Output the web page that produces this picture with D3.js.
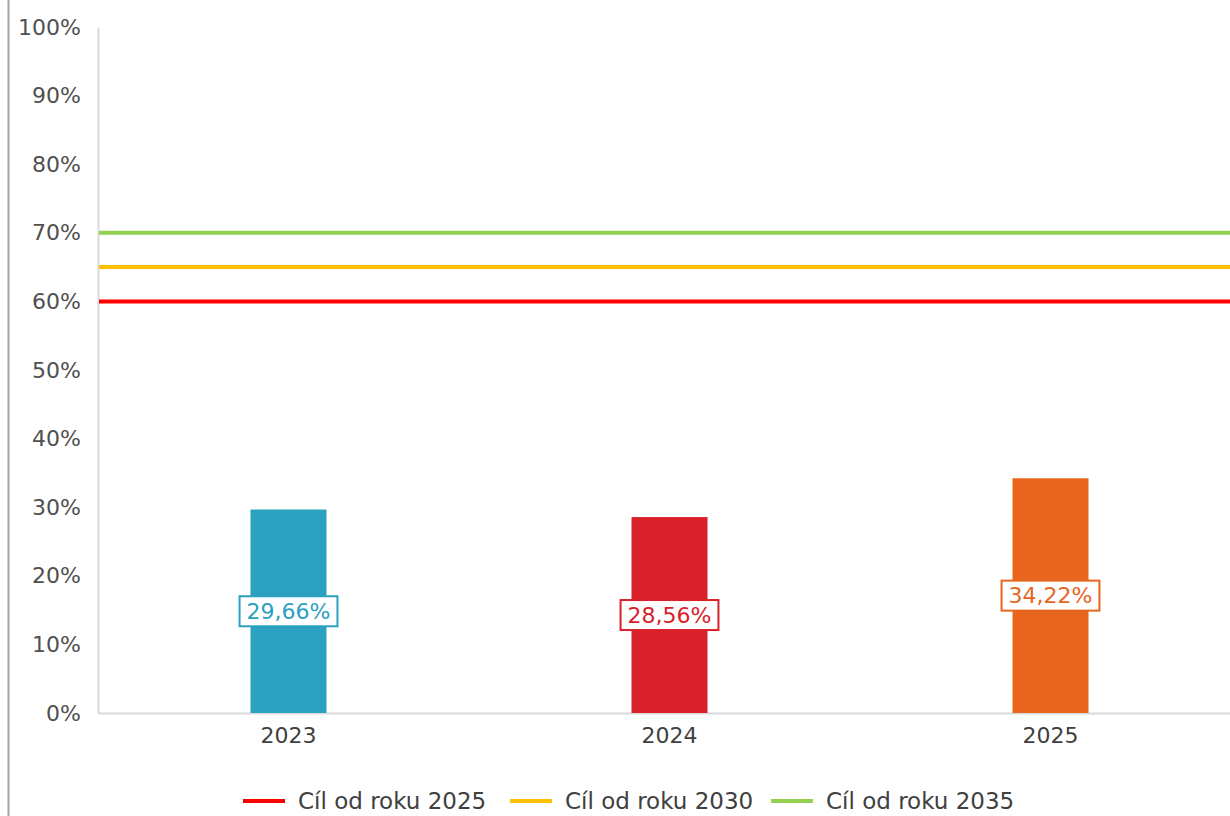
<!DOCTYPE html>
<html><head><meta charset="utf-8">
<script src="https://cdn.jsdelivr.net/npm/d3@7"></script>
<style>body{margin:0;background:#fff;}svg{display:block;font-family:"DejaVu Sans",Verdana,sans-serif;}</style>
</head><body>
<svg id="chart" width="1230" height="816"></svg>
<script>
const categories = ["2023", "2024", "2025"];
const values = [29.66, 28.56, 34.22];
const barColors = ["#2aa1be", "#d9202a", "#e8651e"];
const valueLabels = ["29,66%", "28,56%", "34,22%"];
const targetNames = ["Cíl od roku 2025", "Cíl od roku 2030", "Cíl od roku 2035"];
const targetValues = [60, 65, 70];
const targetColors = ["#ff0000", "#ffc000", "#92d050"];
const yTicks = [0, 10, 20, 30, 40, 50, 60, 70, 80, 90, 100];

const svg = d3.select("#chart");
const m = {left: 98, top: 27, right: -11, bottom: 103};
const W = 1230, H = 816;
const x = d3.scaleBand().domain(categories).range([m.left, W - m.right]).paddingInner(0).paddingOuter(0);
const y = d3.scaleLinear().domain([0, 100]).range([H - m.bottom, m.top]);

// outer left border
svg.append("line").attr("x1", 8.5).attr("x2", 8.5).attr("y1", 0).attr("y2", H)
  .attr("stroke", "#a6a6a6").attr("stroke-width", 2);

// axes
const yAxis = svg.append("g").attr("transform", `translate(${m.left},0)`)
  .call(d3.axisLeft(y).tickValues(yTicks).tickFormat(d => d + "%").tickSize(0).tickPadding(17));
yAxis.select(".domain").attr("stroke", "#d9d9d9").attr("stroke-width", 2);
yAxis.selectAll("text").attr("font-size", 22).attr("fill", "#505050")
  .attr("font-family", "'DejaVu Sans', Verdana, sans-serif");

const xAxis = svg.append("g").attr("transform", `translate(0,${y(0)})`)
  .call(d3.axisBottom(x).tickSize(0).tickPadding(14));
xAxis.select(".domain").attr("stroke", "#d9d9d9").attr("stroke-width", 2);
xAxis.selectAll("text").attr("font-size", 22).attr("fill", "#404040")
  .attr("font-family", "'DejaVu Sans', Verdana, sans-serif");

// bars
const bw = 76;
svg.append("g").selectAll("rect").data(categories).join("rect")
  .attr("x", d => x(d) + x.bandwidth() / 2 - bw / 2)
  .attr("width", bw)
  .attr("y", (d, i) => y(values[i]))
  .attr("height", (d, i) => y(0) - y(values[i]))
  .attr("fill", (d, i) => barColors[i]);

// target lines
svg.append("g").selectAll("line").data(targetValues).join("line")
  .attr("x1", m.left + 1).attr("x2", W)
  .attr("y1", d => y(d)).attr("y2", d => y(d))
  .attr("stroke", (d, i) => targetColors[i]).attr("stroke-width", 4);

// value labels
const lg = svg.append("g");
categories.forEach((c, i) => {
  const cx = x(c) + x.bandwidth() / 2;
  const cy = (y(values[i]) + y(0)) / 2;
  const g = lg.append("g");
  const t = g.append("text").attr("x", cx).attr("y", cy).attr("text-anchor", "middle")
    .attr("dominant-baseline", "central").attr("font-size", 22).attr("fill", barColors[i])
    .text(valueLabels[i]);
  const bb = t.node().getBBox();
  g.insert("rect", "text").attr("x", bb.x - 7).attr("y", cy - 15).attr("width", bb.width + 14).attr("height", 30)
    .attr("fill", "#fff").attr("stroke", barColors[i]).attr("stroke-width", 2);
});

// legend
const legX = [243, 510, 771];
const leg = svg.append("g");
targetNames.forEach((n, i) => {
  leg.append("line").attr("x1", legX[i]).attr("x2", legX[i] + 42).attr("y1", 801).attr("y2", 801)
    .attr("stroke", targetColors[i]).attr("stroke-width", 4);
  leg.append("text").attr("x", legX[i] + 55).attr("y", 801).attr("dominant-baseline", "central")
    .attr("font-size", 23).attr("fill", "#404040").text(n);
});
</script>
</body></html>
